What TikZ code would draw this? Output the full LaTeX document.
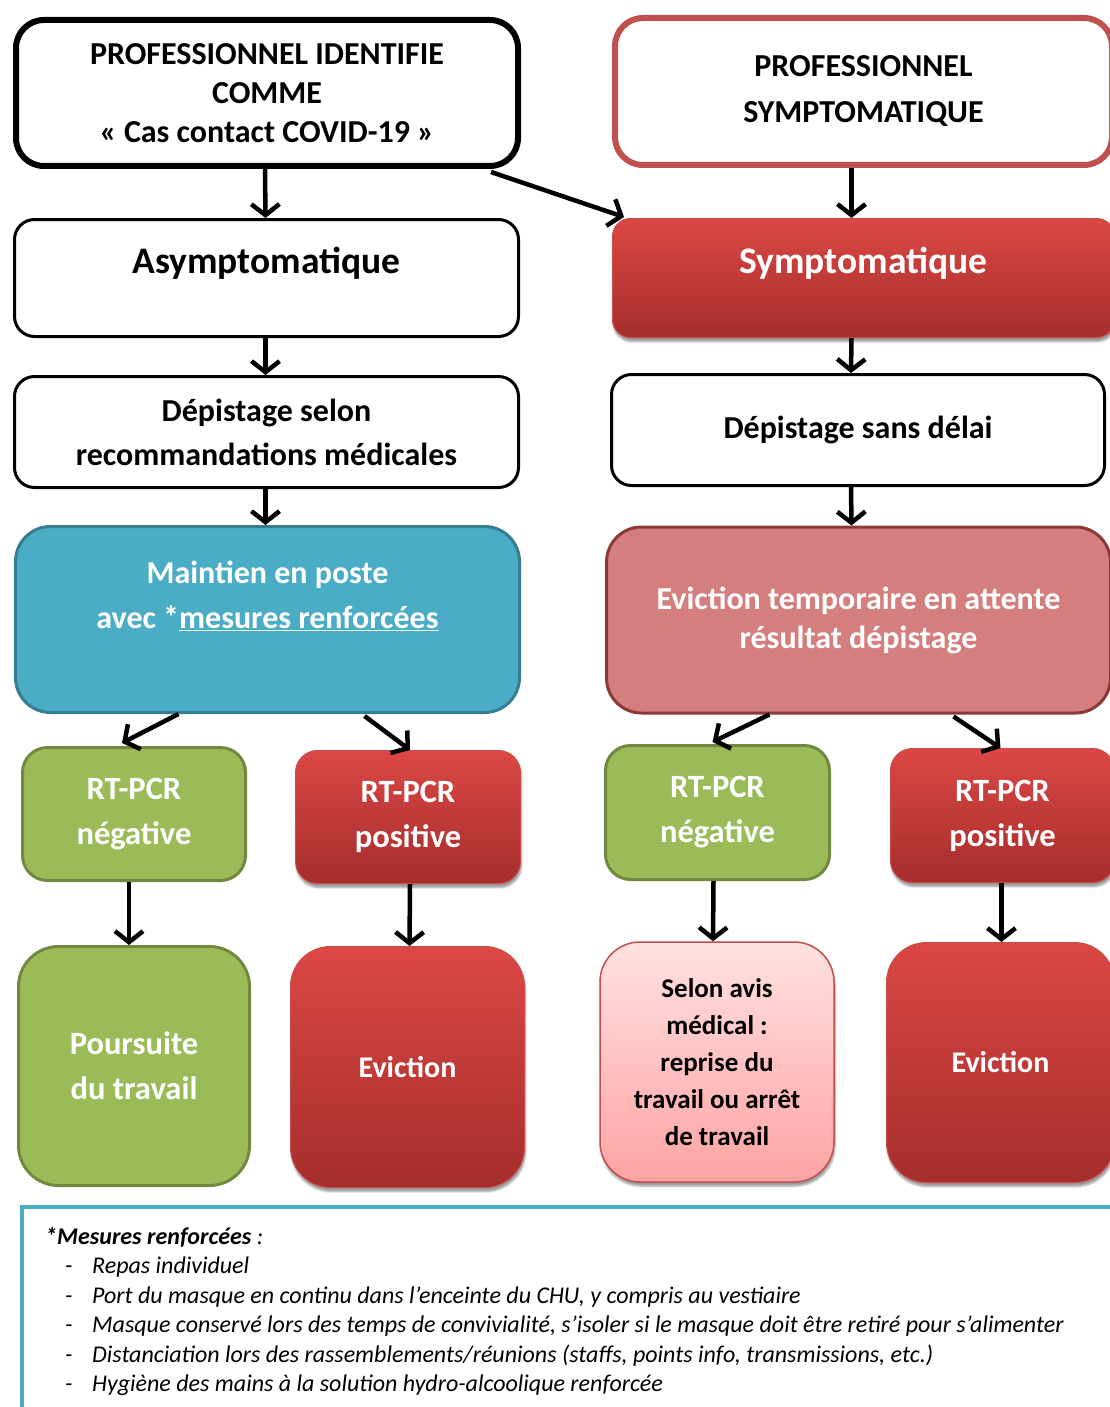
\documentclass[tikz,border=0pt]{standalone}
\usepackage{fontspec}
\setmainfont{Carlito}
\usepackage{tikz}
\usetikzlibrary{arrows.meta, positioning, calc, shadows.blur}
\definecolor{alertred}{HTML}{C0504D}
\definecolor{redtop}{HTML}{DB4744}
\definecolor{redbottom}{HTML}{A52E2C}
\definecolor{redrim}{HTML}{C94C49}
\definecolor{keepblue}{HTML}{4BACC6}
\definecolor{keepblueedge}{HTML}{357D91}
\definecolor{waitrose}{HTML}{D47F7E}
\definecolor{waitroseedge}{HTML}{8C3836}
\definecolor{safegreen}{HTML}{9BBB59}
\definecolor{safegreenedge}{HTML}{71893F}
\definecolor{pinktop}{HTML}{FFE1E1}
\definecolor{pinkbottom}{HTML}{FFA3A3}

\newcommand{\mesure}[1]{\hspace*{20pt}\makebox[27pt][l]{-}#1}

\begin{document}
\begin{tikzpicture}[x=1pt, y=-1pt,
  flowbox/.style={rectangle, align=center, inner sep=0pt},
  plainbox/.style={flowbox, draw=black, line width=3pt, rounded corners=20pt, fill=white},
  redbox/.style={flowbox, draw=redrim, line width=1pt, top color=redtop, bottom color=redbottom,
    text=white, blur shadow={shadow xshift=1pt, shadow yshift=-4pt, shadow blur steps=6}},
  greenbox/.style={flowbox, draw=safegreenedge, line width=3pt, fill=safegreen, text=white},
  arr/.style={line width=4.5pt, -{Straight Barb[length=11pt, width=28pt]}}
]
  \useasboundingbox (0,0) rectangle (1109,1407);

  % Top: who is concerned
  \node[flowbox, draw=black, line width=6pt, rounded corners=28pt, minimum width=502pt, minimum height=146pt,
    font=\bfseries\fontsize{32}{39}\selectfont] (topL) at (267,93)
    {PROFESSIONNEL IDENTIFIE\\COMME\\« Cas contact COVID-19 »};
  \node[flowbox, draw=alertred, line width=6pt, rounded corners=28pt, minimum width=497pt, minimum height=147pt,
    font=\bfseries\fontsize{32}{46}\selectfont] (topR) at (863.5,91.5)
    {PROFESSIONNEL\\SYMPTOMATIQUE};

  % Second row
  \node[plainbox, minimum width=504pt, minimum height=117pt] (asym) at (266.5,278) {};
  \node[font=\bfseries\fontsize{37.5}{44}\selectfont] (asym-t) at (266.5,263) {Asymptomatique};
  \node[redbox, rounded corners=18pt, minimum width=502pt, minimum height=119pt] (sympt) at (863.5,278) {};
  \node[text=white, font=\bfseries\fontsize{37.5}{44}\selectfont] (sympt-t) at (863.5,263) {Symptomatique};

  % Screening
  \node[plainbox, minimum width=504pt, minimum height=111pt, font=\bfseries\fontsize{32}{44}\selectfont] (depL) at (266.5,432)
    {Dépistage selon\\recommandations médicales};
  \node[plainbox, minimum width=493pt, minimum height=111pt, font=\bfseries\fontsize{32}{44}\selectfont] (depR) at (858,430)
    {Dépistage sans délai};

  % Measures while waiting
  \node[flowbox, draw=keepblueedge, line width=3pt, fill=keepblue, rounded corners=35pt,
    minimum width=504pt, minimum height=186pt] (maint) at (267.5,619.5) {};
  \node[align=center, text=white, font=\bfseries\fontsize{32}{45}\selectfont] (maint-t) at (267.5,596)
    {Maintien en poste\\avec *\underline{mesures renforcées}};
  \node[flowbox, draw=waitroseedge, line width=3pt, fill=waitrose, rounded corners=35pt,
    minimum width=504pt, minimum height=186pt, text=white, font=\bfseries\fontsize{32}{39}\selectfont] (evtemp) at (858.5,620)
    {Eviction temporaire en attente\\résultat dépistage};

  % RT-PCR results
  \node[greenbox, rounded corners=25pt, minimum width=223pt, minimum height=133pt,
    font=\bfseries\fontsize{32.5}{45}\selectfont] (negL) at (134,814) {RT-PCR\\négative};
  \node[redbox, rounded corners=22pt, minimum width=225pt, minimum height=133pt,
    font=\bfseries\fontsize{32.5}{45}\selectfont] (posL) at (408,817) {RT-PCR\\positive};
  \node[greenbox, rounded corners=25pt, minimum width=224pt, minimum height=134pt,
    font=\bfseries\fontsize{32.5}{45}\selectfont] (negR) at (717.5,812.5) {RT-PCR\\négative};
  \node[redbox, rounded corners=22pt, minimum width=224pt, minimum height=134pt,
    font=\bfseries\fontsize{32.5}{45}\selectfont] (posR) at (1002.5,815.5) {RT-PCR\\positive};

  % Outcomes
  \node[greenbox, rounded corners=40pt, minimum width=231pt, minimum height=239pt,
    font=\bfseries\fontsize{32.5}{45}\selectfont] (pours) at (134,1066) {Poursuite\\du travail};
  \node[redbox, rounded corners=40pt, minimum width=234pt, minimum height=241pt,
    font=\bfseries\fontsize{30}{40}\selectfont] (evL) at (407.5,1067) {Eviction};
  \node[flowbox, draw=alertred, line width=1.5pt, top color=pinktop, bottom color=pinkbottom, rounded corners=40pt,
    minimum width=234pt, minimum height=240pt, blur shadow={shadow xshift=1pt, shadow yshift=-4pt, shadow blur steps=6},
    font=\bfseries\fontsize{27}{37}\selectfont] (selon) at (717,1062)
    {Selon avis\\médical :\\reprise du\\travail ou arrêt\\de travail};
  \node[redbox, rounded corners=40pt, minimum width=228pt, minimum height=240pt,
    font=\bfseries\fontsize{30}{40}\selectfont] (evR) at (1000.5,1062.5) {Eviction};

  % Arrows
  \draw[arr] ([xshift=-2pt]topL.south) -- ([xshift=-1pt]asym.north);
  \draw[arr] ($(topL.south east)+(-30,3)$) -- ($(sympt.north west)+(12,-1)$);
  \draw[arr] ([xshift=-12pt]topR.south) -- ([xshift=-12pt]sympt.north);
  \draw[arr] ([xshift=-1pt]asym.south) -- ([xshift=-1pt]depL.north);
  \draw[arr] ([xshift=-12pt]sympt.south) -- ([xshift=-7pt]depR.north);
  \draw[arr] ([xshift=-1pt]depL.south) -- ([xshift=-2pt]maint.north);
  \draw[arr] ([xshift=-7pt]depR.south) -- ([xshift=-7pt]evtemp.north);
  \draw[arr] ($(maint.south)+(-89,0)$) -- ($(negL.north)+(-12,-3)$);
  \draw[arr] ($(maint.south)+(97,2)$) -- ($(posL.north)+(2,0)$);
  \draw[arr] ($(evtemp.south)+(-89,0)$) -- ($(negR.north)+(-5,-2)$);
  \draw[arr] ($(evtemp.south)+(95,2)$) -- ($(posR.north)+(-2,0)$);
  \draw[arr] ([xshift=-5pt]negL.south) -- ([xshift=-5pt]pours.north);
  \draw[arr] ([xshift=2pt]posL.south) -- ([xshift=2pt]evL.north);
  \draw[arr] ([xshift=-4pt]negR.south) -- ([xshift=-4pt]selon.north);
  \draw[arr] ([xshift=-1pt]posR.south) -- ([xshift=1pt]evR.north);

  % Reinforced measures
  \draw[keepblue, line width=4pt] (22,1207) rectangle (1125,1430);
  \node[anchor=north west, align=left, inner sep=0pt, font=\itshape\fontsize{24}{29.5}\selectfont] (mesures) at (45,1227)
    {\textbf{*Mesures renforcées} :\\
     \mesure{Repas individuel}\\
     \mesure{Port du masque en continu dans l’enceinte du CHU, y compris au vestiaire}\\
     \mesure{Masque conservé lors des temps de convivialité, s’isoler si le masque doit être retiré pour s’alimenter}\\
     \mesure{Distanciation lors des rassemblements/réunions (staffs, points info, transmissions, etc.)}\\
     \mesure{Hygiène des mains à la solution hydro-alcoolique renforcée}};
\end{tikzpicture}
\end{document}
